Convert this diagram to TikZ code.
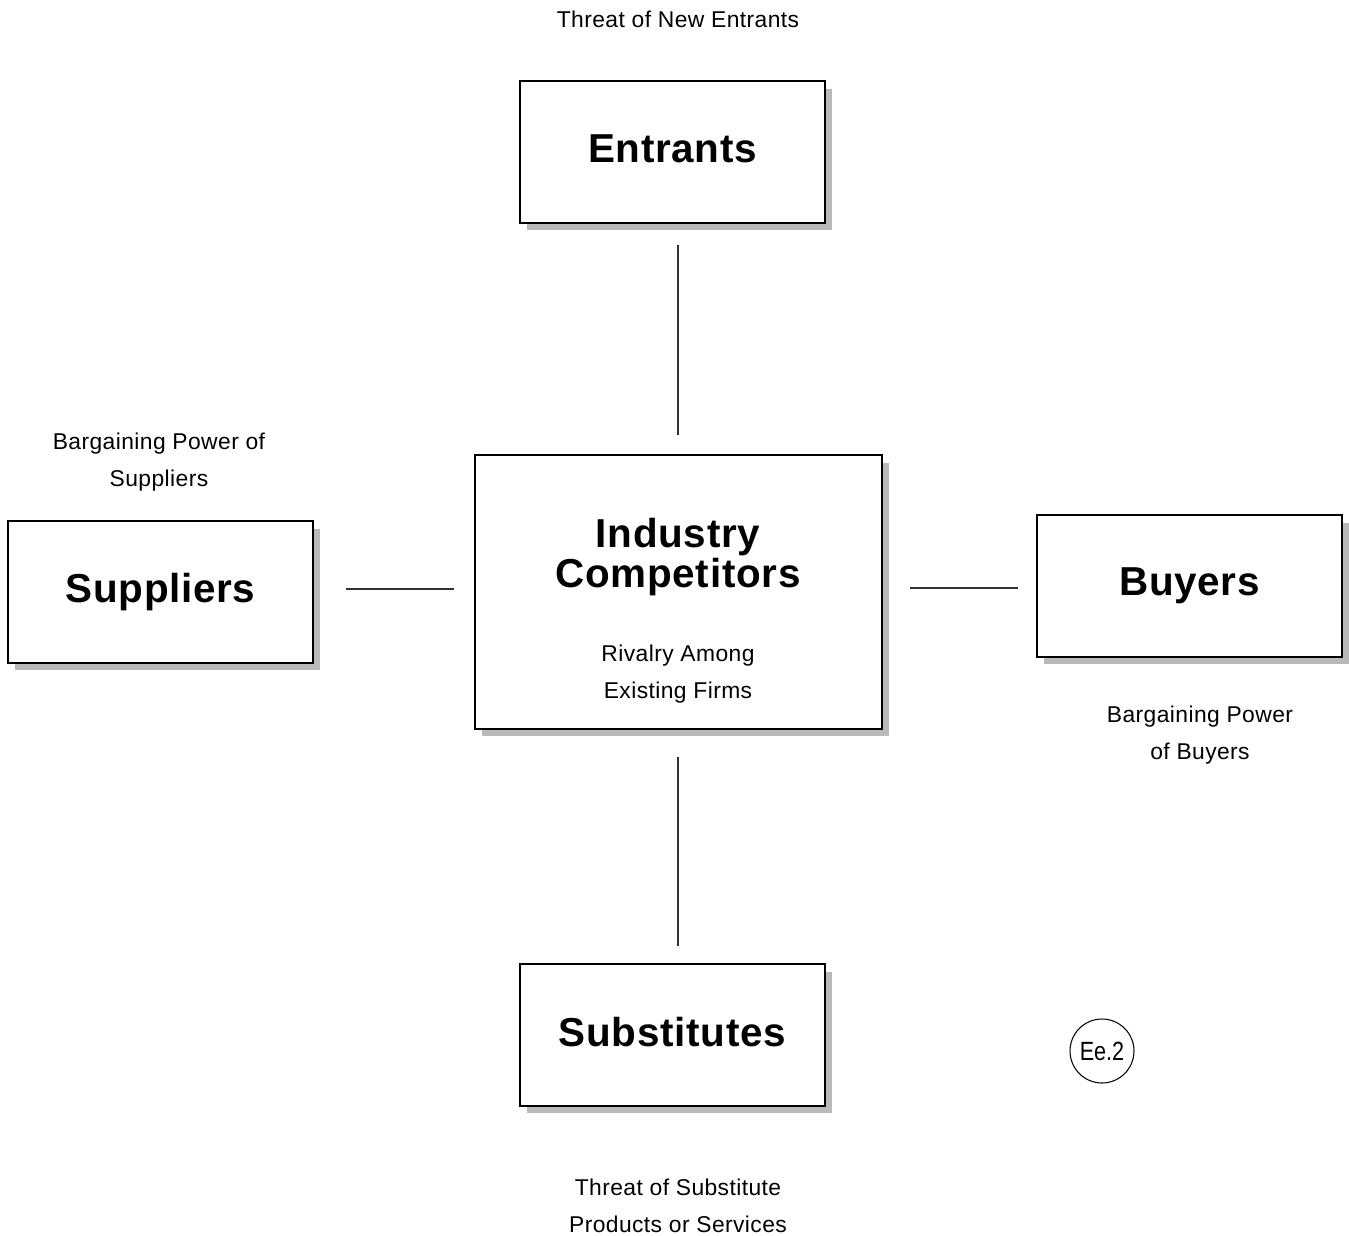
\documentclass[tikz,border=0pt]{standalone}
\usepackage{fontspec}
\setmainfont{Liberation Sans}[LetterSpace=1.8]
\newfontfamily\narrowfont[FakeStretch=0.82]{Liberation Sans}
\usetikzlibrary{shadows}
\begin{document}
\begin{tikzpicture}[x=0.02cm,y=-0.02cm,
  forcebox/.style={draw=black,line width=0.9pt,fill=white,minimum width=6.1cm,minimum height=2.84cm,
    drop shadow={shadow xshift=0.14cm,shadow yshift=-0.15cm,fill=gray!55,opacity=1},
    font=\fontsize{23}{28}\selectfont\bfseries},
  boldtext/.style={font=\fontsize{23}{22.7}\selectfont\bfseries,align=center,inner sep=0pt},
  smalltext/.style={font=\fontsize{13}{21}\selectfont,align=center,inner sep=0pt},
  link/.style={draw=black!80,line width=0.7pt}]
\useasboundingbox (0,0) rectangle (1349,1236);
% boxes
\node[forcebox,text depth=0.12cm] (entrants) at (672.5,152) {Entrants};
\node[forcebox] (suppliers) at (160.5,592) {Suppliers};
\node[forcebox] (buyers) at (1189.5,586) {Buyers};
\node[forcebox,text depth=0.12cm] (substitutes) at (672.5,1035) {Substitutes};
\node[forcebox,minimum width=8.14cm,minimum height=5.48cm] (industry) at (678.5,592) {};
\node[boldtext] (indtitle) at (678,557) {Industry\\Competitors};
\node[smalltext] (rivalry) at (678,674) {Rivalry Among\\Existing Firms};
% labels
\node[smalltext] (tnew) at (678,19) {Threat of New Entrants};
\node[smalltext] (bps) at (159,462) {Bargaining Power of\\Suppliers};
\node[smalltext] (bpb) at (1200,735) {Bargaining Power\\of Buyers};
\node[smalltext] (tsub) at (678,1206) {Threat of Substitute\\Products or Services};
% connectors
\coordinate (t1) at (678,245); \coordinate (t2) at (678,435);
\coordinate (l1) at (346,589); \coordinate (l2) at (454,589);
\coordinate (r1) at (910,588); \coordinate (r2) at (1018,588);
\coordinate (b1) at (678,757); \coordinate (b2) at (678,946);
\draw[link] (t1) -- (t2);
\draw[link] (l1) -- (l2);
\draw[link] (r1) -- (r2);
\draw[link] (b1) -- (b2);
% tag
\node[draw=black,line width=0.6pt,circle,minimum size=1.28cm,inner sep=0pt,font=\narrowfont\fontsize{15}{17}\selectfont] (tag) at (1102,1051) {Ee.2};
\end{tikzpicture}
\end{document}
